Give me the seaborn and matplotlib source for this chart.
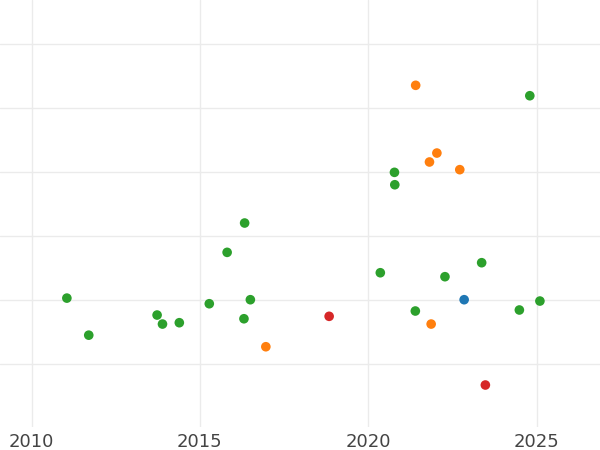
import matplotlib
matplotlib.use("Agg")
import matplotlib.pyplot as plt
import seaborn as sns
import pandas as pd

# Data (x = year, y = arbitrary units, grid step = 1)
green_x = [2011.05, 2011.70, 2013.73, 2013.89, 2014.39, 2015.28, 2015.81, 2016.33,
           2016.50, 2016.31, 2020.36, 2020.78, 2020.79, 2021.40, 2022.28, 2023.37,
           2024.49, 2024.80, 2025.10]
green_y = [0.03, -0.55, -0.235, -0.376, -0.355, -0.058, 0.746, 1.205,
           0.005, -0.293, 0.427, 1.998, 1.804, -0.172, 0.365, 0.584,
           -0.156, 3.197, -0.016]
orange_x = [2021.41, 2022.04, 2021.82, 2022.72, 2021.87, 2016.96]
orange_y = [3.36, 2.30, 2.16, 2.04, -0.376, -0.731]
red_x = [2018.84, 2023.48]
red_y = [-0.255, -1.33]
blue_x = [2022.85]
blue_y = [0.005]

groups = ["A", "B", "C", "D"]
colors = {"A": "#1f77b4", "B": "#ff7f0e", "C": "#2ca02c", "D": "#d62728"}
x_ticks = [2010, 2015, 2020, 2025]
y_ticks = [-1, 0, 1, 2, 3, 4]

df = pd.concat([
    pd.DataFrame({"x": blue_x, "y": blue_y, "g": "A"}),
    pd.DataFrame({"x": orange_x, "y": orange_y, "g": "B"}),
    pd.DataFrame({"x": green_x, "y": green_y, "g": "C"}),
    pd.DataFrame({"x": red_x, "y": red_y, "g": "D"}),
], ignore_index=True)

sns.set_style("whitegrid", {"grid.color": "#ebebeb", "axes.edgecolor": "white"})
plt.rcParams["font.family"] = ["DejaVu Sans"]

fig = plt.figure(figsize=(6, 4.5), dpi=100)
ax = fig.add_axes([0, 1 - 427 / 450, 1, 427 / 450])

sns.scatterplot(data=df, x="x", y="y", hue="g", hue_order=groups, palette=colors,
                s=48, linewidth=0, legend=False, ax=ax, zorder=3)

ax.set_xlim(2009.064, 2026.885)
ax.set_ylim(-1.987, 4.695)
ax.set_xticks(x_ticks)
ax.set_yticks(y_ticks)
ax.set_yticklabels([])
ax.set_xlabel("")
ax.set_ylabel("")
ax.tick_params(axis="x", length=0, pad=4.5, labelsize=13, labelcolor="#444444")
ax.tick_params(axis="y", length=0)
ax.grid(True, linewidth=1.0, color="#ebebeb")
for s in ax.spines.values():
    s.set_visible(False)

fig.savefig("out.png", dpi=100)
